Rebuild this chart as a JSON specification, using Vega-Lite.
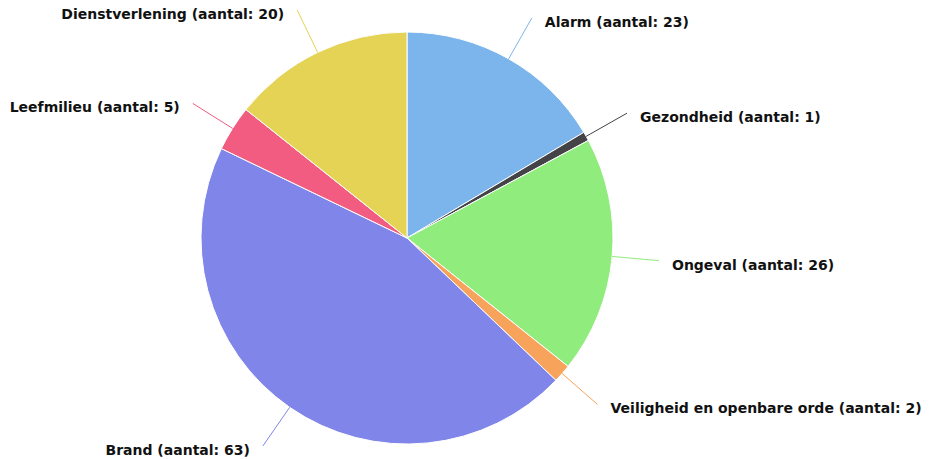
{
  "$schema": "https://vega.github.io/schema/vega-lite/v6.json",
  "width": 814,
  "height": 442,
  "autosize": "none",
  "padding": {"left": 0, "top": 17, "right": 115, "bottom": 0},
  "background": "white",
  "config": {"view": {"stroke": null}},
  "data": {
    "values": [
      {"category": "Alarm", "count": 23},
      {"category": "Gezondheid", "count": 1},
      {"category": "Ongeval", "count": 26},
      {"category": "Veiligheid en openbare orde", "count": 2},
      {"category": "Brand", "count": 63},
      {"category": "Leefmilieu", "count": 5},
      {"category": "Dienstverlening", "count": 20}
    ]
  },
  "transform": [
    {"window": [{"op": "row_number", "as": "idx"}, {"op": "sum", "field": "count", "as": "cum"}], "frame": [null, 0]},
    {"joinaggregate": [{"op": "sum", "field": "count", "as": "total"}]},
    {"calculate": "2*PI*(datum.cum - datum.count/2)/datum.total", "as": "mid"},
    {"calculate": "sin(datum.mid) >= 0 ? 1 : -1", "as": "side"},
    {"calculate": "206*sin(datum.mid)", "as": "x0"},
    {"calculate": "206*cos(datum.mid)", "as": "y0"},
    {"calculate": "253*sin(datum.mid)", "as": "x1"},
    {"calculate": "253*cos(datum.mid)", "as": "y1"},
    {"calculate": "datum.x1 + 13*datum.side", "as": "lx"},
    {"calculate": "datum.category + ' (aantal: ' + datum.count + ')'", "as": "label"}
  ],
  "layer": [
    {
      "mark": {"type": "arc", "outerRadius": 206, "stroke": "white", "strokeWidth": 1},
      "encoding": {
        "theta": {"field": "count", "type": "quantitative", "stack": true},
        "order": {"field": "idx", "type": "quantitative"},
        "color": {
          "field": "category",
          "type": "nominal",
          "scale": {
            "domain": ["Alarm", "Gezondheid", "Ongeval", "Veiligheid en openbare orde", "Brand", "Leefmilieu", "Dienstverlening"],
            "range": ["#7cb5ec", "#434348", "#90ed7d", "#f7a35c", "#8085e9", "#f15c80", "#e4d354"]
          },
          "legend": null
        }
      }
    },
    {
      "mark": {"type": "rule", "strokeWidth": 1},
      "encoding": {
        "x": {"field": "x0", "type": "quantitative", "scale": {"domain": [-407, 407], "nice": false}, "axis": null},
        "y": {"field": "y0", "type": "quantitative", "scale": {"domain": [-221, 221], "nice": false}, "axis": null},
        "x2": {"field": "x1"},
        "y2": {"field": "y1"},
        "color": {"field": "category", "type": "nominal", "legend": null}
      }
    },
    {
      "transform": [{"filter": "datum.side > 0"}],
      "mark": {"type": "text", "align": "left", "baseline": "middle", "dy": 5, "font": "DejaVu Sans", "fontSize": 14, "fontWeight": "bold", "color": "#111111"},
      "encoding": {
        "x": {"field": "lx", "type": "quantitative", "scale": {"domain": [-407, 407], "nice": false}, "axis": null},
        "y": {"field": "y1", "type": "quantitative", "scale": {"domain": [-221, 221], "nice": false}, "axis": null},
        "text": {"field": "label"}
      }
    },
    {
      "transform": [{"filter": "datum.side < 0"}],
      "mark": {"type": "text", "align": "right", "baseline": "middle", "dy": 5, "font": "DejaVu Sans", "fontSize": 14, "fontWeight": "bold", "color": "#111111"},
      "encoding": {
        "x": {"field": "lx", "type": "quantitative", "scale": {"domain": [-407, 407], "nice": false}, "axis": null},
        "y": {"field": "y1", "type": "quantitative", "scale": {"domain": [-221, 221], "nice": false}, "axis": null},
        "text": {"field": "label"}
      }
    }
  ]
}
